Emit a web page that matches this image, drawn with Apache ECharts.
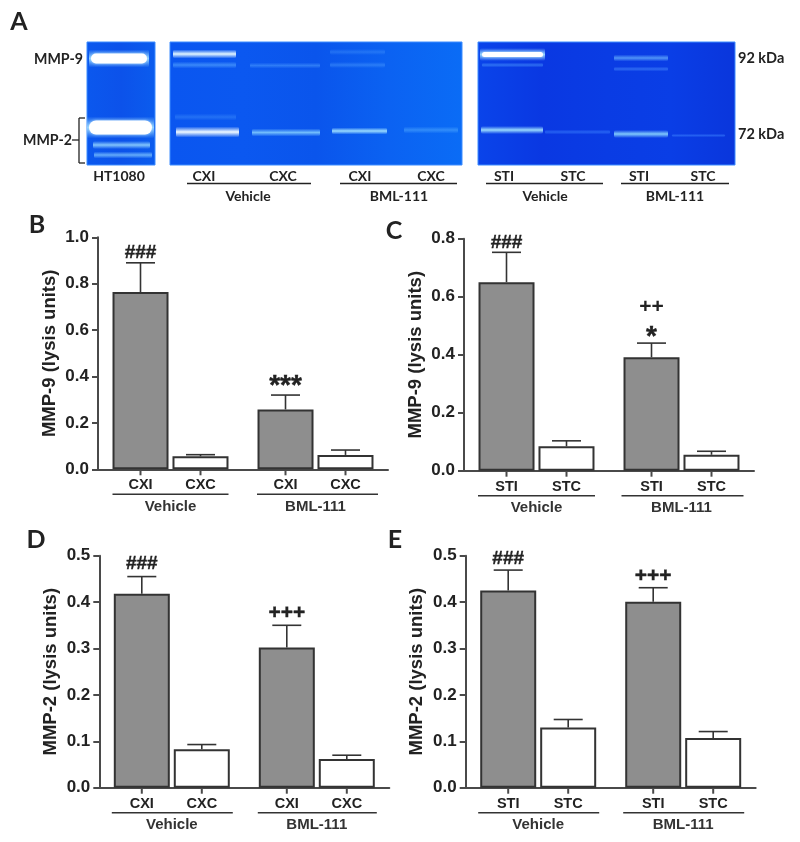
<!DOCTYPE html>
<html>
<head>
<meta charset="utf-8">
<style>html,body{margin:0;padding:0;background:#fff}#c{width:800px;height:842px}</style>
<script src="https://cdn.jsdelivr.net/npm/echarts@6/dist/echarts.min.js"></script>
</head>
<body>
<div id="c"></div>
<script>
// ---------- chart values ----------
const groups = ['Vehicle', 'BML-111'];
const cxLabels = ['CXI', 'CXC'];
const stLabels = ['STI', 'STC'];

const bInjured = [0.764, 0.258];
const bInjuredTop = [0.89, 0.32];
const bControl = [0.056, 0.062];
const bControlTop = [0.063, 0.083];
const bNotes = ['###', '', '***', ''];

const cInjured = [0.65, 0.391];
const cInjuredTop = [0.753, 0.44];
const cControl = [0.084, 0.055];
const cControlTop = [0.103, 0.067];
const cNotes = ['###', '', '*', ''];
const cNotesUpper = ['', '', '++', ''];

const dInjured = [0.418, 0.302];
const dInjuredTop = [0.455, 0.35];
const dControl = [0.083, 0.062];
const dControlTop = [0.093, 0.07];
const dNotes = ['###', '', '+++', ''];

const eInjured = [0.425, 0.401];
const eInjuredTop = [0.469, 0.431];
const eControl = [0.13, 0.107];
const eControlTop = [0.147, 0.121];
const eNotes = ['###', '', '+++', ''];

// ---------- layout and style ----------
const ARIAL = '"Liberation Sans", Arial, sans-serif';
const LATO = 'Lato, "Open Sans", sans-serif';
const INK = '#222';
const AXIS = '#4a4a4a';
const BAR_W = 56, BAR_STEP = 30, CAP = 14.5;

const panels = [
  {name: 'MMP-9 (lysis units)', left: 98, top: 237.3, max: 1.0, step: 0.2, nameGap: 39,
   injured: bInjured, injuredTop: bInjuredTop, control: bControl, controlTop: bControlTop,
   ticks: cxLabels, notes: bNotes, lifts: [10, 0, 9, 0], upper: null, rules: [[-58, 58], [-58.5, 62.5]]},
  {name: 'MMP-9 (lysis units)', left: 464, top: 238.7, max: 0.8, step: 0.2, nameGap: 38.5,
   injured: cInjured, injuredTop: cInjuredTop, control: cControl, controlTop: cControlTop,
   ticks: stLabels, notes: cNotes, lifts: [10, 0, 6, 0], upper: cNotesUpper, rules: [[-58.5, 58.5], [-60, 62]]},
  {name: 'MMP-2 (lysis units)', left: 99.3, top: 555.7, max: 0.5, step: 0.1, nameGap: 39,
   injured: dInjured, injuredTop: dInjuredTop, control: dControl, controlTop: dControlTop,
   ticks: cxLabels, notes: dNotes, lifts: [13, 0, 12, 0], upper: null, rules: [[-60, 61], [-59, 60]]},
  {name: 'MMP-2 (lysis units)', left: 465.7, top: 555.7, max: 0.5, step: 0.1, nameGap: 39,
   injured: eInjured, injuredTop: eInjuredTop, control: eControl, controlTop: eControlTop,
   ticks: stLabels, notes: eNotes, lifts: [11, 0, 12, 0], upper: null, rules: [[-60, 61], [-60, 61]]}
];
const PLOT_W = 290, PLOT_H = 232;

const grid = [], xAxis = [], yAxis = [], series = [];

function noteSize(text) {
  if (text.indexOf('*') >= 0) return 28;
  if (text.indexOf('#') >= 0) return 19;
  return 21;
}

panels.forEach(function (p, i) {
  grid.push({left: p.left, top: p.top, width: PLOT_W, height: PLOT_H, containLabel: false});
  xAxis.push({
    type: 'category', gridIndex: i, data: groups,
    axisLine: {lineStyle: {color: AXIS, width: 2}},
    axisTick: {show: false},
    axisLabel: {margin: 30, fontFamily: ARIAL, fontWeight: 'bold', fontSize: 15, color: '#333', interval: 0}
  });
  yAxis.push({
    type: 'value', gridIndex: i, min: 0, max: p.max, interval: p.step,
    name: p.name, nameLocation: 'middle', nameGap: p.nameGap, nameRotate: 90, nameMoveOverlap: false,
    nameTextStyle: {fontFamily: ARIAL, fontWeight: 'bold', fontSize: 18.5, color: INK},
    splitLine: {show: false},
    axisLine: {show: true, lineStyle: {color: AXIS, width: 2}},
    axisTick: {show: true, length: 6, lineStyle: {color: AXIS, width: 2}},
    axisLabel: {margin: 9, fontFamily: ARIAL, fontWeight: 'bold', fontSize: 17, color: INK,
      formatter: function (v) { return v.toFixed(1); }}
  });
  series.push({
    type: 'bar', xAxisIndex: i, yAxisIndex: i, data: p.injured, barWidth: BAR_W, barGap: '7.1%',
    z: 3, silent: true, itemStyle: {color: '#8e8e8e', borderColor: '#333', borderWidth: 2}
  });
  series.push({
    type: 'bar', xAxisIndex: i, yAxisIndex: i, data: p.control, barWidth: BAR_W, barGap: '7.1%',
    z: 3, silent: true, itemStyle: {color: '#fff', borderColor: '#333', borderWidth: 2}
  });
  const rows = [];
  p.injuredTop.forEach(function (t, g) {
    rows.push([g, t, -1]);
    rows.push([g, p.controlTop[g], 1]);
  });
  series.push({
    type: 'custom', xAxisIndex: i, yAxisIndex: i, data: rows, clip: false, z: 2, silent: true,
    encode: {x: 0, y: 1},
    renderItem: function (params, api) {
      const g = api.value(0), top = api.value(1), side = api.value(2);
      const idx = params.dataIndex;
      const centre = api.coord([g, 0]);
      const cx = centre[0] + side * BAR_STEP, base = centre[1];
      const topY = api.coord([g, top])[1];
      const barVal = (side < 0 ? p.injured : p.control)[g];
      const barY = api.coord([g, barVal])[1];
      const line = { stroke: '#333', lineWidth: 1.6 };
      const kids = [
        {type: 'line', shape: {x1: cx, y1: barY, x2: cx, y2: topY}, style: line},
        {type: 'line', shape: {x1: cx - CAP, y1: topY, x2: cx + CAP, y2: topY}, style: line},
        {type: 'line', shape: {x1: cx, y1: base, x2: cx, y2: base + 6}, style: {stroke: AXIS, lineWidth: 2}},
        {type: 'text', style: {text: p.ticks[side < 0 ? 0 : 1], x: cx, y: base + 16, align: 'center',
          verticalAlign: 'middle', fontFamily: ARIAL, fontWeight: 'bold', fontSize: 14.5, fill: '#222'}}
      ];
      const note = p.notes[idx];
      if (note) {
        kids.push({type: 'text', style: {text: note, x: cx, y: topY - p.lifts[idx], align: 'center',
          verticalAlign: 'middle', fontFamily: ARIAL, fontWeight: 'bold', fontSize: noteSize(note), fill: '#222',
          stroke: '#222', lineWidth: 0.4}});
      }
      if (p.upper && p.upper[idx]) {
        kids.push({type: 'text', style: {text: p.upper[idx], x: cx, y: topY - 36, align: 'center',
          verticalAlign: 'middle', fontFamily: ARIAL, fontWeight: 'bold', fontSize: 21, fill: '#222'}});
      }
      if (side > 0) {
        const r = p.rules[g];
        kids.push({type: 'line', shape: {x1: centre[0] + r[0], y1: base + 25, x2: centre[0] + r[1], y2: base + 25},
          style: {stroke: '#333', lineWidth: 1.4}});
      }
      return {type: 'group', children: kids};
    }
  });
});

// ---------- panel A: gel photographs (decorative, not measured data) ----------
const G = [];
function text(t, x, y, size, align, family, color) {
  G.push({type: 'text', z: 10, style: {text: t, x: x, y: y, align: align || 'center', verticalAlign: 'middle',
    fontFamily: family || LATO, fontWeight: 'bold', fontSize: size, fill: color || '#222'}});
}
function rule(x1, y1, x2, y2, w) {
  G.push({type: 'line', z: 10, shape: {x1: x1, y1: y1, x2: x2, y2: y2}, style: {stroke: '#222', lineWidth: w || 1.3}});
}
function gel(x, w, stops) {
  G.push({type: 'rect', z: 1, shape: {x: x, y: 42, width: w, height: 123},
    style: {fill: {type: 'linear', x: 0, y: 0, x2: 1, y2: 0,
      colorStops: stops.map(function (c, k) { return {offset: k / (stops.length - 1), color: c}; })},
      stroke: '#3d8cff', lineWidth: 1}});
}
// a fuzzy band: fades out above and below its centre line
function band(x1, x2, y, h, rgb, a) {
  const c = function (k) { return 'rgba(' + rgb + ',' + k + ')'; };
  G.push({type: 'rect', z: 2, shape: {x: x1, y: y - h / 2, width: x2 - x1, height: h, r: 2},
    style: {fill: {type: 'linear', x: 0, y: 0, x2: 0, y2: 1, colorStops: [
      {offset: 0, color: c(0)}, {offset: 0.5, color: c(a)}, {offset: 1, color: c(0)}]}}});
}
// a saturated band: white core with a pale halo
function hot(x1, x2, y, h) {
  band(x1 - 2, x2 + 2, y, h + 8, '150,215,255', 0.95);
  G.push({type: 'rect', z: 3, shape: {x: x1, y: y - h / 2, width: x2 - x1, height: h, r: h / 2},
    style: {fill: '#fff', shadowColor: 'rgba(190,230,255,0.9)', shadowBlur: 3}});
}
gel(87, 68, ['#0b58ee', '#0c52ea', '#0b5cee']);
gel(170, 292, ['#0a56f0', '#0b58f0', '#0a55ec', '#0b62f2', '#0a6cf6']);
gel(478, 257, ['#0a44ea', '#0a38e2', '#0a3ce4', '#0a3ee6', '#0a36dc']);

// reference lane
hot(91, 147, 58.5, 10);
hot(89, 152, 127.5, 14);
band(93, 150, 145, 8, '150,215,255', 0.85);
band(94, 152, 155, 7, '130,200,255', 0.75);
// CX gel
band(173, 236, 54, 9, '225,245,255', 1);
band(173, 236, 65, 7, '90,170,255', 0.6);
band(250, 320, 65.5, 6, '80,160,255', 0.5);
band(330, 385, 52, 6, '80,160,255', 0.35);
band(330, 385, 65, 6, '80,160,255', 0.45);
band(176, 239, 132, 11, '240,250,255', 1);
band(175, 236, 117, 7, '80,160,255', 0.35);
band(252, 320, 132.5, 8, '130,205,255', 0.85);
band(332, 387, 131, 7, '160,225,255', 0.95);
band(404, 458, 130, 7, '80,170,255', 0.55);
// ST gel
hot(482, 543, 54.5, 5);
band(482, 543, 65, 5, '80,160,255', 0.5);
band(481, 543, 130, 8, '160,225,255', 0.95);
band(545, 610, 132, 5, '60,130,255', 0.55);
band(614, 668, 58, 7, '110,185,255', 0.7);
band(614, 668, 69, 5, '80,150,255', 0.5);
band(614, 668, 134, 8, '140,215,255', 0.9);
band(672, 725, 135.5, 4, '60,130,255', 0.5);

text('A', 19, 22, 25);
text('B', 37, 225, 25);
text('C', 394, 231, 25);
text('D', 36, 540, 25);
text('E', 395, 540, 25);

text('MMP-9', 83, 59, 14.2, 'right');
text('MMP-2', 72, 140, 14.2, 'right');
rule(72, 140, 79, 140);
rule(79, 118, 79, 163);
rule(79, 118, 85, 118);
rule(79, 163, 85, 163);
text('92 kDa', 738, 58, 14.5, 'left');
text('72 kDa', 738, 134, 14.5, 'left');
text('HT1080', 119, 176, 14);

[['CXI', 204], ['CXC', 283], ['CXI', 360], ['CXC', 431], ['STI', 504], ['STC', 573], ['STI', 639], ['STC', 703]]
  .forEach(function (l) { text(l[0], l[1], 176, 14); });
[[187, 311], [340, 457], [486, 603], [621, 729]].forEach(function (s) { rule(s[0], 183.5, s[1], 183.5); });
[['Vehicle', 248], ['BML-111', 399], ['Vehicle', 545], ['BML-111', 675]]
  .forEach(function (l) { text(l[0], l[1], 196, 14); });

const chart = echarts.init(document.getElementById('c'), null, {renderer: 'canvas'});
chart.setOption({
  animation: false, backgroundColor: '#fff', tooltip: {show: false}, legend: {show: false},
  grid: grid, xAxis: xAxis, yAxis: yAxis, series: series, graphic: {elements: G}
});
</script>
</body>
</html>
